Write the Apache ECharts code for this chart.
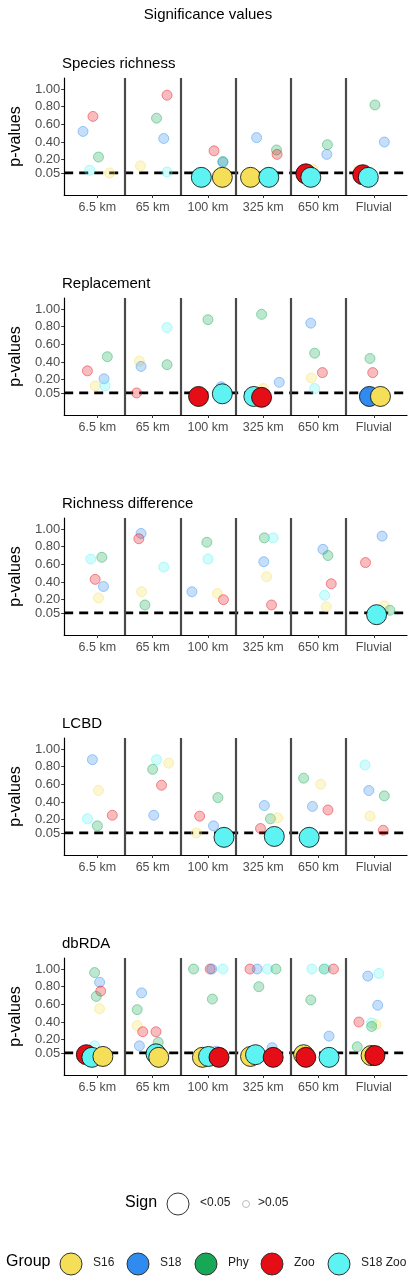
<!DOCTYPE html>
<html><head><meta charset="utf-8">
<script src="https://cdn.jsdelivr.net/npm/echarts@6/dist/echarts.min.js"></script>
<style>html,body{margin:0;padding:0;background:#fff}#c{width:416px;height:1280px}</style>
</head><body><div id="c"></div>
<script>
const categories = ['6.5 km','65 km','100 km','325 km','650 km','Fluvial'];
const groups = ['S16','S18','Phy','Zoo','S18 Zoo'];
const groupColors = ['#F6DF58','#2F8BEF','#17A857','#E60E16','#5CF3F2'];
const yTicks = [0.05,0.2,0.4,0.6,0.8,1.0];
const panelTitles = ['Species richness','Replacement','Richness difference','LCBD','dbRDA'];
// rows: [category index, jitter offset, group index, p-value]
const speciesRichness = [
 [0,-0.26,1,0.52],[0,-0.08,3,0.69],[0,0.02,2,0.23],[0,-0.14,4,0.08],[0,0.22,0,0.05],
 [1,-0.22,0,0.13],[1,0.07,2,0.67],[1,0.2,1,0.44],[1,0.26,3,0.93],[1,0.26,4,0.06],
 [2,0.11,3,0.30],[2,0.27,2,0.18],[2,0.27,1,0.17],[2,-0.12,4,0.0],[2,0.26,0,0.0],
 [3,-0.12,1,0.45],[3,0.24,2,0.31],[3,0.25,3,0.26],[3,-0.23,0,0.0],[3,0.1,4,0.0],
 [4,-0.1,0,0.09],[4,0.16,2,0.37],[4,0.15,1,0.26],[4,-0.23,3,0.04],[4,-0.14,4,0.0],
 [5,-0.28,0,0.08],[5,0.02,2,0.82],[5,0.19,1,0.40],[5,-0.2,3,0.03],[5,-0.1,4,0.0]
];
const replacement = [
 [0,-0.18,3,0.30],[0,-0.04,0,0.13],[0,0.12,1,0.21],[0,0.14,4,0.13],[0,0.18,2,0.46],
 [1,-0.29,3,0.05],[1,-0.24,0,0.41],[1,-0.21,1,0.35],[1,0.26,2,0.37],[1,0.26,4,0.79],
 [2,0.0,2,0.88],[2,0.24,1,0.12],[2,-0.17,3,0.01],[2,0.26,4,0.04],
 [3,0.0,0,0.10],[3,-0.03,2,0.94],[3,0.29,1,0.17],[3,-0.17,4,0.01],[3,-0.03,3,0.0],
 [4,-0.14,1,0.84],[4,-0.07,2,0.50],[4,-0.13,0,0.22],[4,0.07,3,0.28],[4,-0.07,4,0.10],
 [5,0.17,2,0.05],[5,-0.07,2,0.44],[5,-0.02,3,0.28],[5,-0.08,1,0.01],[5,0.12,0,0.01]
];
const richnessDifference = [
 [0,-0.12,4,0.66],[0,0.08,2,0.68],[0,-0.04,3,0.43],[0,0.11,1,0.35],[0,0.02,0,0.22],
 [1,-0.21,1,0.95],[1,-0.25,3,0.89],[1,0.2,4,0.57],[1,-0.2,0,0.29],[1,-0.14,2,0.14],
 [2,-0.29,1,0.29],[2,-0.02,2,0.85],[2,0.0,4,0.66],[2,0.17,0,0.27],[2,0.28,3,0.20],
 [3,0.02,2,0.90],[3,0.18,4,0.90],[3,0.01,1,0.63],[3,0.06,0,0.46],[3,0.15,3,0.14],
 [4,0.08,1,0.77],[4,0.17,2,0.70],[4,0.23,3,0.38],[4,0.11,4,0.25],[4,0.14,0,0.12],
 [5,-0.15,3,0.62],[5,0.15,1,0.92],[5,0.19,0,0.13],[5,0.29,2,0.08],[5,0.05,4,0.03]
];
const lcbd = [
 [0,-0.09,1,0.88],[0,0.02,0,0.53],[0,-0.18,4,0.21],[0,0.0,2,0.13],[0,0.27,3,0.25],
 [1,0.07,4,0.88],[1,0.29,0,0.84],[1,0.0,2,0.77],[1,0.16,3,0.59],[1,0.02,1,0.25],
 [2,0.18,2,0.45],[2,-0.15,3,0.24],[2,0.1,1,0.13],[2,-0.21,0,0.05],[2,0.29,4,0.0],
 [3,0.02,1,0.36],[3,0.13,2,0.21],[3,0.26,0,0.22],[3,-0.05,3,0.10],[3,0.2,4,0.01],
 [4,-0.27,2,0.67],[4,0.04,0,0.60],[4,-0.11,1,0.35],[4,0.17,3,0.31],[4,-0.17,4,0.0],
 [5,-0.16,4,0.82],[5,-0.09,1,0.53],[5,0.19,2,0.47],[5,-0.07,0,0.24],[5,0.17,3,0.08]
];
const dbRDA = [
 [0,-0.05,2,0.96],[0,0.04,1,0.85],[0,0.06,3,0.75],[0,-0.02,2,0.69],[0,0.04,0,0.55],[0,-0.05,4,0.13],
 [0,-0.2,3,0.03],[0,-0.1,4,0.0],[0,0.1,0,0.01],
 [1,-0.2,1,0.73],[1,-0.28,2,0.54],[1,-0.28,0,0.36],[1,-0.18,3,0.29],[1,0.06,3,0.29],[1,-0.24,1,0.13],[1,0.1,2,0.17],
 [1,0.06,4,0.04],[1,0.11,0,0.0],
 [2,-0.26,2,1.0],[2,0.04,3,1.0],[2,0.07,1,1.0],[2,0.27,4,1.0],[2,0.08,2,0.66],[2,0.15,1,0.07],
 [2,-0.1,0,0.0],[2,0.01,4,0.01],[2,0.2,3,0.0],
 [3,-0.24,3,1.0],[3,-0.11,1,1.0],[3,0.08,4,1.0],[3,0.23,2,1.0],[3,-0.08,2,0.80],[3,0.16,1,0.11],
 [3,-0.23,0,0.01],[3,-0.14,4,0.03],[3,0.18,3,0.0],
 [4,-0.12,4,1.0],[4,0.1,2,1.0],[4,0.13,4,1.0],[4,0.27,3,1.0],[4,-0.14,2,0.65],[4,0.19,1,0.24],
 [4,-0.27,0,0.03],[4,-0.23,3,0.0],[4,0.19,4,0.0],
 [5,-0.11,1,0.92],[5,0.09,4,0.95],[5,0.07,1,0.59],[5,-0.27,3,0.40],[5,-0.04,4,0.39],[5,0.04,0,0.37],[5,-0.04,2,0.35],[5,-0.3,2,0.12],
 [5,-0.05,0,0.02],[5,0.02,3,0.02]
];
const panels = [speciesRichness, replacement, richnessDifference, lcbd, dbRDA];

function rgba(hex,a){const n=parseInt(hex.slice(1),16);return `rgba(${n>>16},${(n>>8)&255},${n&255},${a})`;}

const grids=[],xAxes=[],yAxes=[],series=[],titles=[];
titles.push({text:'Significance values',left:'center',top:2,textStyle:{fontSize:15,fontWeight:'normal',color:'#000',fontFamily:'Liberation Sans'}});
panels.forEach((rows,i)=>{
  const top=78+i*220;
  grids.push({left:59,right:9,top:top,height:117});
  titles.push({text:panelTitles[i],left:57,top:top-27,textStyle:{fontSize:15,fontWeight:'normal',color:'#000',fontFamily:'Liberation Sans'}});
  xAxes.push({type:'value',gridIndex:i,min:0.4,max:6.6,
    axisLine:{onZero:false,lineStyle:{color:'#000',width:1.2}},
    axisTick:{customValues:[1,2,3,4,5,6],length:3,lineStyle:{color:'#333'}},
    axisLabel:{customValues:[1,2,3,4,5,6],formatter:v=>categories[Math.round(v)-1],color:'#4d4d4d',fontSize:12.5,fontFamily:'Liberation Sans',margin:6},
    splitLine:{show:false}});
  yAxes.push({type:'value',gridIndex:i,min:-0.2,max:1.125,
    name:'p-values',nameLocation:'middle',nameGap:40,nameRotate:90,nameTextStyle:{fontSize:16,color:'#000',fontFamily:'Liberation Sans'},
    axisLine:{show:true,lineStyle:{color:'#000',width:1.2}},
    axisTick:{show:true,customValues:yTicks,length:3,lineStyle:{color:'#333'}},
    axisLabel:{customValues:yTicks,formatter:v=>v.toFixed(2),color:'#4d4d4d',fontSize:13,fontFamily:'Liberation Sans',margin:4},
    splitLine:{show:false}});
  series.push({type:'line',xAxisIndex:i,yAxisIndex:i,data:[[0.4,0.05],[6.6,0.05]],symbol:'none',silent:true,z:3,
    lineStyle:{color:'#000',width:2.6,type:[9,6]},
    markLine:{silent:true,symbol:'none',label:{show:false},lineStyle:{color:'#4a4a4a',width:2.2,type:'solid'},
      data:[1.5,2.5,3.5,4.5,5.5].map(v=>({xAxis:v}))}});
  const small=[],big=[];
  rows.forEach(r=>{
    const sig=r[3]<0.045;
    const c=groupColors[r[2]];
    const item={value:[r[0]+1+r[1],r[3]],itemStyle:sig?{color:c,borderColor:'#000',borderWidth:0.8,opacity:1}:{color:rgba(c,0.35),borderColor:rgba(c,0.55),borderWidth:1}};
    (sig?big:small).push(item);
  });
  series.push({type:'scatter',xAxisIndex:i,yAxisIndex:i,data:small,symbolSize:10,z:4,silent:true});
  series.push({type:'scatter',xAxisIndex:i,yAxisIndex:i,data:big,symbolSize:20,z:5,silent:true});
});

const graphic=[];
const ff='Liberation Sans';
graphic.push({type:'text',left:125,top:1195,style:{text:'Sign',fontSize:16,fill:'#000',fontFamily:ff}});
graphic.push({type:'circle',shape:{cx:178,cy:1204,r:11},style:{fill:'#fff',stroke:'#333',lineWidth:1}});
graphic.push({type:'text',left:200,top:1197,style:{text:'<0.05',fontSize:12,fill:'#222',fontFamily:ff}});
graphic.push({type:'circle',shape:{cx:246,cy:1204,r:3.5},style:{fill:'#fff',stroke:'#bbb',lineWidth:1}});
graphic.push({type:'text',left:258,top:1197,style:{text:'>0.05',fontSize:12,fill:'#222',fontFamily:ff}});
graphic.push({type:'text',left:6,top:1254,style:{text:'Group',fontSize:16,fill:'#000',fontFamily:ff}});
const gx=[71,138,206,272,339];
groups.forEach((g,k)=>{
  graphic.push({type:'circle',shape:{cx:gx[k],cy:1264,r:11},style:{fill:groupColors[k],stroke:'#333',lineWidth:1}});
  graphic.push({type:'text',left:gx[k]+22,top:1257,style:{text:g,fontSize:12,fill:'#222',fontFamily:ff}});
});

const chart=echarts.init(document.getElementById('c'),null,{renderer:'canvas'});
chart.setOption({animation:false,backgroundColor:'#fff',title:titles,grid:grids,xAxis:xAxes,yAxis:yAxes,series:series,graphic:graphic});
</script></body></html>
